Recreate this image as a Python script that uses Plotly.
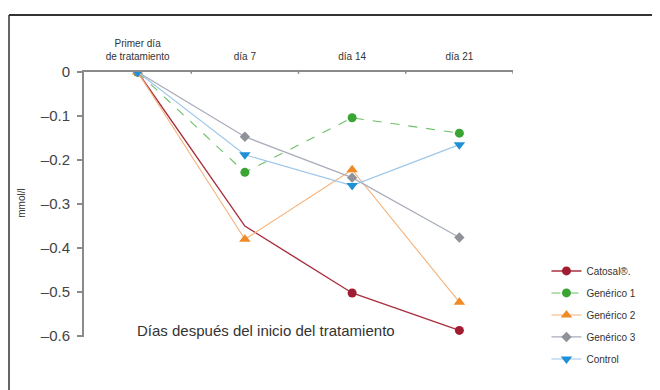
import plotly.graph_objects as go

categories = ["Primer día<br>de tratamiento", "día 7", "día 14", "día 21"]
series_names = ["Catosal®.", "Genérico 1", "Genérico 2", "Genérico 3", "Control"]
catosal = [0, -0.35, -0.502, -0.587]
generico1 = [0, -0.228, -0.104, -0.139]
generico2 = [0, -0.38, -0.222, -0.523]
generico3 = [0, -0.147, -0.24, -0.376]
control = [0, -0.188, -0.258, -0.165]
y_ticks = [0, -0.1, -0.2, -0.3, -0.4, -0.5, -0.6]
y_ticklabels = ["0", "–0.1", "–0.2", "–0.3", "–0.4", "–0.5", "–0.6"]

FONT = "Liberation Sans Narrow, Arial Narrow, Liberation Sans, Arial"
x = list(range(len(categories)))

RED = "#a01c30"
styles = [
    dict(line=dict(color="#a8303f", width=1.4),
         marker=dict(color=[RED, "rgba(0,0,0,0)", RED, RED], symbol="circle", size=9)),
    dict(line=dict(color="#6cc067", width=1.1, dash="dash"), marker=dict(color="#3aa535", symbol="circle", size=9)),
    dict(line=dict(color="#f6b27a", width=1.1), marker=dict(color="#f08a24", symbol="triangle-up", size=10)),
    dict(line=dict(color="#a9aebb", width=1.3), marker=dict(color="#8f9299", symbol="diamond", size=8)),
    dict(line=dict(color="#9cc7ea", width=1.1), marker=dict(color="#1f8fd6", symbol="triangle-down", size=10)),
]
data = [catosal, generico1, generico2, generico3, control]

fig = go.Figure()
for i, (name, vals, st) in enumerate(zip(series_names, data, styles)):
    fig.add_trace(go.Scatter(x=x, y=vals, name=name, mode="lines+markers", legendgroup=f"g{i}",
                             line=st["line"], marker=st["marker"]))

fig.update_layout(
    width=660, height=390,
    margin=dict(l=76, r=155, t=64, b=61),
    paper_bgcolor="white", plot_bgcolor="white",
    font=dict(family=FONT, color="#333"),
    showlegend=True,
    legend=dict(x=1.078, y=0.304, xanchor="left", yanchor="top",
                font=dict(size=10, family=FONT, color="#333"),
                bgcolor="rgba(0,0,0,0)", tracegroupgap=3),
    xaxis=dict(range=[-0.5, 3.5], tickvals=x, ticktext=categories, side="top",
               showgrid=False, zeroline=False, showline=True, linecolor="#8a8a8a", linewidth=2,
               ticks="", ticklabelstandoff=6,
               tickfont=dict(size=10, color="#333", family=FONT), fixedrange=True),
    yaxis=dict(range=[-0.602, 0], tickvals=y_ticks, ticktext=y_ticklabels,
               showgrid=False, zeroline=False, showline=True, linecolor="#8a8a8a", linewidth=2,
               ticks="outside", ticklen=5, tickcolor="#8a8a8a", tickwidth=1.5, ticklabelstandoff=4,
               tickfont=dict(size=15, color="#444", family=FONT)),
    shapes=[
        dict(type="line", xref="paper", yref="paper", x0=-0.1748, x1=1.5, y0=1.215, y1=1.215,
             line=dict(color="#333", width=2)),
        dict(type="line", xref="paper", yref="paper", x0=-0.1748, x1=-0.1748, y0=-0.5, y1=1.215,
             line=dict(color="#333", width=1.5)),
    ] + [
        dict(type="line", xref="x", yref="paper", x0=b, x1=b, y0=0.993, y1=1.008,
             line=dict(color="#8a8a8a", width=1.5))
        for b in [0.5, 1.5, 2.5, 3.5]
    ],
    annotations=[
        dict(text="Días después del inicio del tratamiento", xref="paper", yref="paper",
             x=0.424, y=0.023, xanchor="center", yanchor="middle", showarrow=False,
             font=dict(size=15, color="#333", family=FONT)),
        dict(text="mmol/l", xref="paper", yref="paper", x=-0.1445, y=0.503, textangle=-90,
             xanchor="center", yanchor="middle",
             showarrow=False, font=dict(size=10, color="#333", family=FONT)),
    ],
)

fig.write_html("out.html", config={"displayModeBar": False})
